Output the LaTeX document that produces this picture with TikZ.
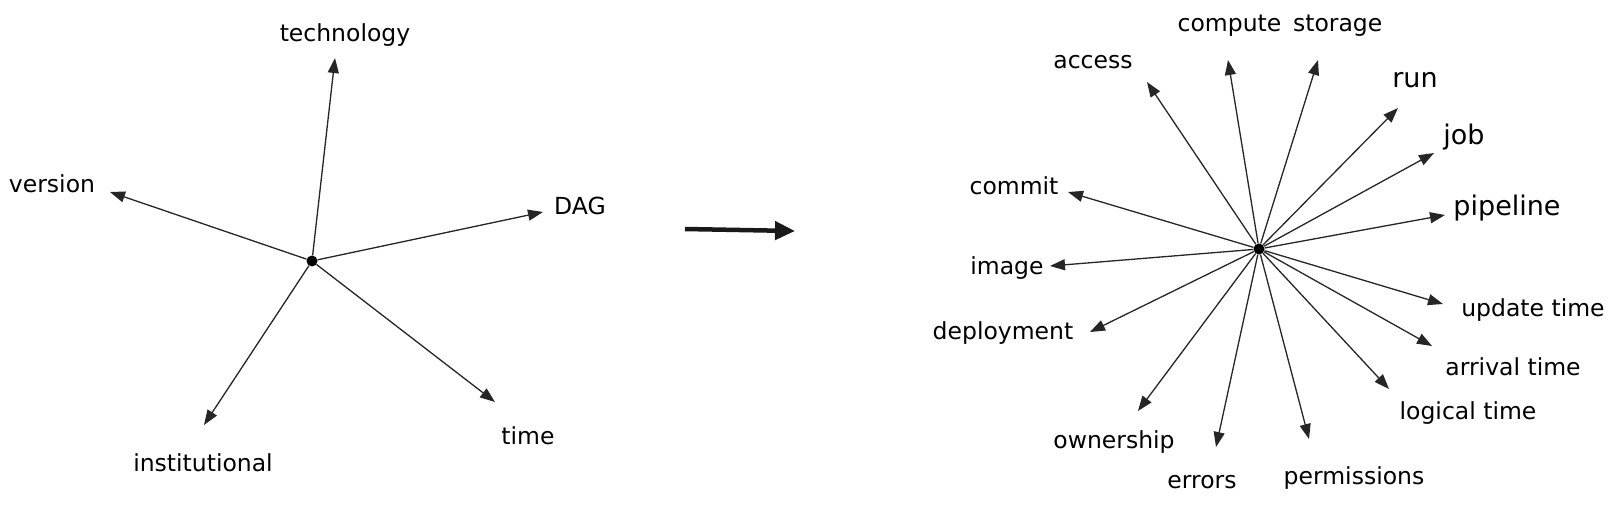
\documentclass[tikz,border=0pt]{standalone}
\usepackage{fontspec}
\setmainfont{DejaVu Sans}
\usetikzlibrary{arrows.meta}
\begin{document}
\begin{tikzpicture}[x=1pt,y=-1pt,
	ray/.style={line width=1.3pt, draw=black!85, -{Triangle[length=15pt,width=11pt]}},
	hub/.style={circle, fill=black, inner sep=0pt, minimum size=11pt},
	word/.style={font=\fontsize{23.5}{28}\selectfont, inner sep=0pt},
	bigword/.style={font=\fontsize{27}{32}\selectfont, inner sep=0pt}]
	\useasboundingbox (0,0) rectangle (1618,509);

	% left star
	\node[hub] (L) at (312,261) {};
	\foreach \n/\tx/\ty/\lx/\ly/\t in {tech/335/58/345/35/technology, vers/110/192/52/184/version,
		dag/543/212/580/206/DAG, time/495/402/528/436/time, inst/204/425/203/463/institutional}{
		\node[word] (\n) at (\lx,\ly) {\t};
		\coordinate (\n-tip) at (\tx,\ty);
		\draw[ray] (L) -- (\n-tip);
	}

	% arrow between
	\coordinate (go-a) at (685,229);
	\coordinate (go-b) at (795,231);
	\draw[line width=4.5pt, draw=black!90, -{Triangle[length=20pt,width=18pt]}] (go-a) -- (go-b);

	% right star
	\node[hub] (R) at (1259,249) {};
	\foreach \n/\tx/\ty/\lx/\ly/\t in {acc/1147/82/1093/62/access, imgc/1050/266/1007/268/image,
		comm/1068/192/1014/186/commit, depl/1090/332/1003/333/deployment,
		own/1138/411/1114/442/ownership, err/1216/447/1202/482/errors,
		perm/1309/439/1354/478/permissions, logi/1389/389/1468/413/logical time,
		arr/1432/346/1513/367/arrival time, upd/1443/304/1533/310/update time}{
		\node[word] (\n) at (\lx,\ly) {\t};
		\coordinate (\n-tip) at (\tx,\ty);
		\draw[ray] (R) -- (\n-tip);
	}
	\foreach \n/\tx/\ty/\lx/\ly/\t in {run/1398/108/1415/80/run, job/1434/153/1464/137/job,
		pipe/1445/215/1507/208/pipeline}{
		\node[bigword] (\n) at (\lx,\ly) {\t};
		\coordinate (\n-tip) at (\tx,\ty);
		\draw[ray] (R) -- (\n-tip);
	}
	\node[word] (cs) at (1280,26) {compute\hspace{0.5em}storage};
	\coordinate (comp-tip) at (1228,60);
	\coordinate (stor-tip) at (1318,60);
	\draw[ray] (R) -- (comp-tip);
	\draw[ray] (R) -- (stor-tip);
\end{tikzpicture}
\end{document}
